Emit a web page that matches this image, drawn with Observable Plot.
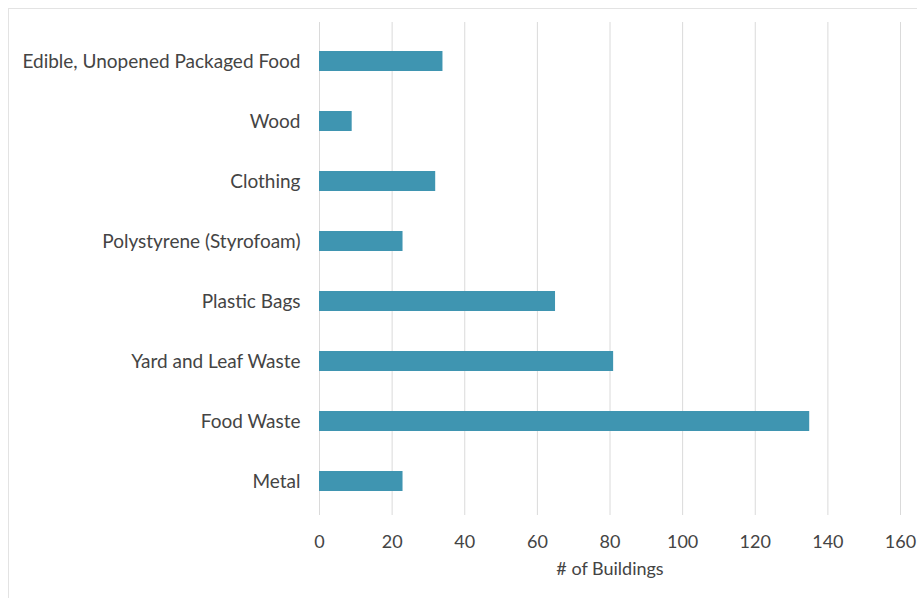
<!DOCTYPE html>
<html>
<head>
<meta charset="utf-8">
<script src="https://cdn.jsdelivr.net/npm/d3@7"></script>
<script src="https://cdn.jsdelivr.net/npm/@observablehq/plot@0.6"></script>
<style>
  html, body { margin: 0; padding: 0; background: #fff; }
  #wrap { position: relative; width: 917px; height: 598px; overflow: hidden; }
  #frame { position: absolute; left: 8px; top: 8px; right: -2px; bottom: -2px;
           border-left: 1px solid #e3e3e3; border-top: 1px solid #e3e3e3; pointer-events: none; }
  svg { display: block; }
</style>
</head>
<body>
<div id="wrap"><div id="frame"></div></div>
<script>
const categories = [
  "Edible, Unopened Packaged Food",
  "Wood",
  "Clothing",
  "Polystyrene (Styrofoam)",
  "Plastic Bags",
  "Yard and Leaf Waste",
  "Food Waste",
  "Metal"
];
const values = [34, 9, 32, 23, 65, 81, 135, 23];
const xTicks = [0, 20, 40, 60, 80, 100, 120, 140, 160];
const xLabel = "# of Buildings";

const data = categories.map((c, i) => ({category: c, value: values[i]}));

const chart = Plot.plot({
  width: 917,
  height: 598,
  marginLeft: 319,
  marginRight: 17,
  marginTop: 27,
  marginBottom: 84,
  style: {fontFamily: "Lato, 'Open Sans', sans-serif", fontSize: "18px", color: "#444", background: "transparent"},
  x: {domain: [0, 160]},
  y: {domain: categories, padding: 0},
  marks: [
    Plot.ruleX(xTicks, {stroke: "#dadada", strokeWidth: 1, insetTop: -5, insetBottom: -1}),
    Plot.barX(data, {x: "value", y: "category", fill: "#3f95b1", insetTop: 20, insetBottom: 20}),
    Plot.axisX({ticks: xTicks, tickSize: 0, tickPadding: 21, label: xLabel, labelAnchor: "center", labelArrow: "none", labelOffset: 60, fill: "#444"}),
    Plot.axisY({tickSize: 0, tickPadding: 19, label: null, fill: "#444", fontSize: 19})
  ]
});
document.getElementById("wrap").prepend(chart);
</script>
</body>
</html>
